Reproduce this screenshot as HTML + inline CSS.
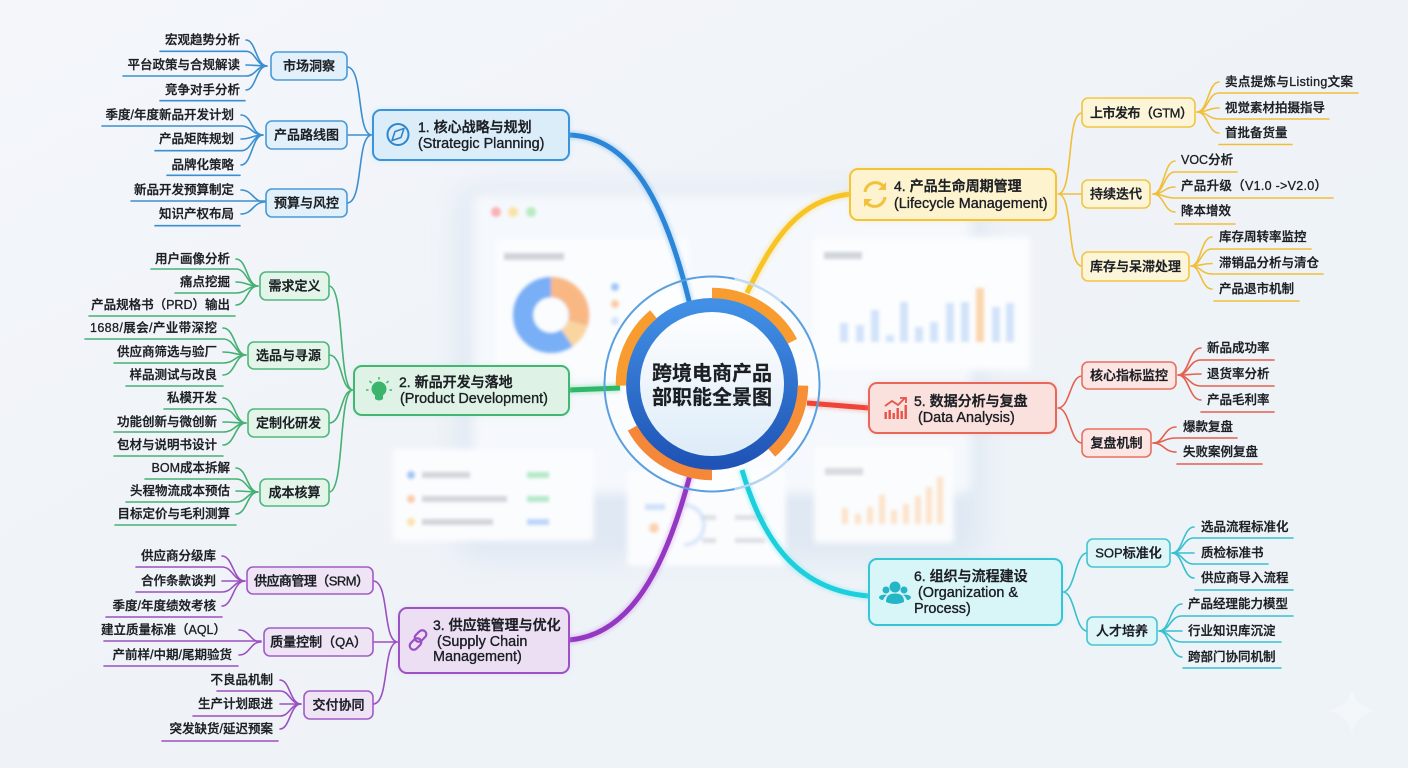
<!DOCTYPE html>
<html lang="zh"><head><meta charset="utf-8"><title>跨境电商产品部职能全景图</title>
<style>
html,body{margin:0;padding:0;width:1408px;height:768px;overflow:hidden;background:#f0f4f8}
svg{display:block}
text{font-family:"Liberation Sans","Noto Sans CJK SC",sans-serif;fill:#1b1e23;dominant-baseline:central;stroke:#1b1e23}
.l text{font-size:12.5px;font-weight:500;stroke-width:.3}
.e text{text-anchor:end}
.s text{font-size:13px;font-weight:500;text-anchor:middle;stroke-width:.35}
.m text{font-size:14.4px;font-weight:500;stroke-width:.35}
.m text.h{font-size:14px;stroke-width:.4}
.c path,.w{fill:none;stroke-width:1.6;stroke-linecap:round}
.u path{fill:none;stroke-width:1.6}
.b{stroke:#3a8fd0}.g{stroke:#45b172}.p{stroke:#9b50c2}.y{stroke:#f0be3a}.r{stroke:#e4604f}.t{stroke:#38c0cf}
</style></head><body>
<svg width="1408" height="768" viewBox="0 0 1408 768" xmlns="http://www.w3.org/2000/svg">
<defs>
<linearGradient id="bg" x1="0" y1="0" x2="1" y2="1"><stop offset="0" stop-color="#f4f6fa"/><stop offset=".5" stop-color="#eff3f8"/><stop offset="1" stop-color="#edf3f7"/></linearGradient>
<linearGradient id="ring" x1="0" y1="0" x2="0" y2="1"><stop offset="0" stop-color="#4190e6"/><stop offset="1" stop-color="#1f54b6"/></linearGradient>
<linearGradient id="face" x1="0" y1="0" x2="0" y2="1"><stop offset="0" stop-color="#ffffff"/><stop offset="1" stop-color="#dcebf8"/></linearGradient>
<filter id="f2" x="-30%" y="-30%" width="160%" height="160%"><feGaussianBlur stdDeviation="3"/></filter>
<filter id="f3" x="-30%" y="-30%" width="160%" height="160%"><feGaussianBlur stdDeviation="5"/></filter>
<filter id="f4" x="-30%" y="-30%" width="160%" height="160%"><feGaussianBlur stdDeviation="14"/></filter>
<filter id="f0" x="-30%" y="-30%" width="160%" height="160%"><feGaussianBlur stdDeviation="1.6"/></filter>
</defs>
<rect width="1408" height="768" fill="url(#bg)"/>

<!-- blurred dashboard -->
<g>
<rect x="458" y="190" width="525" height="370" rx="14" fill="#dfe8f3" filter="url(#f4)"/>
<rect x="472" y="194" width="500" height="300" rx="12" fill="#f5f8fc" filter="url(#f3)"/>
<g filter="url(#f0)"><circle cx="496" cy="212" r="5" fill="#fab0b6"/><circle cx="513" cy="212" r="5" fill="#f9e2a4"/><circle cx="531" cy="212" r="5" fill="#b7ebc0"/></g>
<rect x="495" y="238" width="195" height="140" rx="6" fill="#fafcfe" filter="url(#f2)"/>
<rect x="504" y="253" width="60" height="7" fill="#b3b8c0" opacity=".6" filter="url(#f0)"/>
<g filter="url(#f0)" fill="none" stroke-width="20">
<circle cx="551" cy="315" r="28" stroke="#79aff6"/>
<path d="M551 287A28 28 0 0 1 578 323" stroke="#f9b784"/>
<path d="M578 323A28 28 0 0 1 567 338" stroke="#fad5a0"/>
</g>
<g filter="url(#f0)"><circle cx="615" cy="287" r="4" fill="#a2c6f7"/><circle cx="615" cy="304" r="4" fill="#fbcaa0"/><circle cx="615" cy="321" r="4" fill="#d5e4f9"/></g>
<rect x="813" y="237" width="217" height="133" rx="4" fill="#fbfdfe" filter="url(#f2)"/>
<rect x="824" y="252" width="38" height="7" fill="#b3b8c0" opacity=".6" filter="url(#f0)"/>
<g fill="#d3e3fa" filter="url(#f0)">
<rect x="840" y="323" width="8" height="19"/><rect x="856" y="325" width="8" height="17"/><rect x="871" y="310" width="8" height="32"/><rect x="886" y="335" width="8" height="7"/><rect x="900" y="302" width="8" height="40"/><rect x="915" y="327" width="8" height="15"/><rect x="930" y="322" width="8" height="20"/><rect x="946" y="303" width="8" height="39"/><rect x="961" y="302" width="8" height="40"/><rect x="992" y="307" width="8" height="35"/><rect x="1006" y="303" width="8" height="39"/>
<rect x="976" y="288" width="8" height="54" fill="#fcd6ae"/>
</g>
<rect x="393" y="449" width="201" height="92" rx="4" fill="#fbfcfe" filter="url(#f2)"/>
<g filter="url(#f0)"><circle cx="411" cy="475" r="4" fill="#a2c6f7"/><circle cx="411" cy="499" r="4" fill="#fbcaa8"/><circle cx="411" cy="522" r="4" fill="#fbe2ad"/>
<g fill="#c0c4cb" opacity=".7"><rect x="422" y="472" width="48" height="6"/><rect x="422" y="496" width="85" height="6"/><rect x="422" y="519" width="71" height="6"/></g>
<rect x="527" y="472" width="22" height="6" fill="#b3e9c7"/><rect x="527" y="496" width="22" height="6" fill="#b3e9c7"/><rect x="527" y="519" width="22" height="6" fill="#bcd6f9"/>
</g>
<rect x="627" y="470" width="159" height="96" rx="4" fill="#fbfcfe" filter="url(#f2)"/>
<g filter="url(#f0)"><rect x="645" y="504" width="20" height="6" fill="#d0e1f9"/><circle cx="654" cy="528" r="5" fill="#fcd2ae"/><path d="M684 505A20 20 0 0 1 684 545" fill="none" stroke="#d9e7fa" stroke-width="4"/>
<g fill="#d0d4da" opacity=".7"><rect x="702" y="515" width="14" height="5"/><rect x="735" y="515" width="30" height="5"/><rect x="702" y="538" width="14" height="5"/><rect x="735" y="538" width="30" height="5"/></g></g>
<rect x="814" y="446" width="140" height="97" rx="4" fill="#fafcfd" filter="url(#f2)"/>
<rect x="825" y="468" width="38" height="7" fill="#c0c4cb" opacity=".6" filter="url(#f0)"/>
<g fill="#fce3ca" filter="url(#f0)"><rect x="842" y="508" width="6" height="16"/><rect x="855" y="514" width="6" height="10"/><rect x="867" y="507" width="6" height="17"/><rect x="879" y="495" width="6" height="29"/><rect x="891" y="510" width="6" height="14"/><rect x="903" y="504" width="6" height="20"/><rect x="915" y="496" width="6" height="28"/><rect x="926" y="487" width="6" height="37"/><rect x="937" y="477" width="6" height="47"/></g>
</g>
<path d="M1352 689C1354 700 1362 708 1375 711C1362 714 1354 722 1352 733C1350 722 1342 714 1329 711C1342 708 1350 700 1352 689Z" fill="#f4f7fa"/>

<!-- hub glass -->
<circle cx="712" cy="384" r="107" fill="#ffffff" opacity=".5"/>

<!-- trunks -->
<g fill="none" stroke-linecap="butt">
<g opacity=".35" filter="url(#f0)" stroke-width="9">
<path d="M569 135C630 137 665 200 690 305" stroke="#6fb4ef"/><path d="M569 390L620 388" stroke="#66d39a"/><path d="M569 640C630 635 665 570 690 475" stroke="#c58ae6"/>
<path d="M850 194C800 200 775 235 747 293" stroke="#f9d766"/><path d="M869 408L807 403" stroke="#f78a80"/><path d="M742 470C760 530 790 590 869 596" stroke="#6ee6ef"/>
</g>
<g stroke-width="5">
<path d="M569 135C630 137 665 200 690 305" stroke="#2b86d8"/><path d="M569 390L620 388" stroke="#2eb868"/><path d="M569 640C630 635 665 570 690 475" stroke="#9438c2"/>
<path d="M850 194C800 200 775 235 747 293" stroke="#f7c424"/><path d="M869 408L807 403" stroke="#ef4438"/><path d="M742 470C760 530 790 590 869 596" stroke="#1ccfdc"/>
</g></g>

<!-- central hub -->
<circle cx="712" cy="384" r="107.5" fill="none" stroke="#5a9fe0" stroke-width="2"/>
<path d="M734.4 278.9A107.5 107.5 0 0 1 781.1 301.7" fill="none" stroke="#c2dcf4" stroke-width="2.4"/>
<path d="M788 460A107.5 107.5 0 0 1 734.4 489.1" fill="none" stroke="#b4d4f1" stroke-width="2.4"/>
<circle cx="712" cy="384" r="79" fill="url(#face)" stroke="url(#ring)" stroke-width="14"/>
<g fill="none" stroke-width="10.5">
<path d="M712 293A91 91 0 0 1 792.4 341.3" stroke="#f89c30"/>
<path d="M621 385.6A91 91 0 0 1 653.5 314.3" stroke="#f89c30"/>
<path d="M803 385.6A91 91 0 0 1 771.7 452.7" stroke="#f68f36"/>
<path d="M712 475A91 91 0 0 1 632.4 428.1" stroke="#f58838"/>
</g>
<g style="font-weight:700;font-size:20px" text-anchor="middle"><text x="712" y="374" fill="#111" stroke-width=".2">跨境电商产品</text><text x="712" y="398" fill="#111" stroke-width=".2">部职能全景图</text></g>

<!-- connectors: branch 1 -->
<g class="c u b" fill="none">
<path d="M246 40C256 40 256 66 267 66M246 65C256 65 256 66 267 66M246 90C256 90 256 66 267 66"/>
<path d="M160 51.3H246C256 51.3 256 66 267 66M123 76H246C256 76 256 66 267 66M160 100.7H245"/>
<path d="M241 115C252 115 252 135 263 135M241 139C252 139 252 135 263 135M241 165C252 165 252 135 263 135"/>
<path d="M102 126H241C252 126 252 135 263 135M155 150.7H241C252 150.7 252 135 263 135M167 175.3H240"/>
<path d="M241 190C253 190 253 202 265 202M241 214C253 214 253 202 265 202"/>
<path d="M131 201H265M155 225.7H240"/>
<path d="M347 67C364 67 356 135 372 135M347 135H372M347 203C364 203 356 135 372 135"/>
</g>
<!-- branch 2 -->
<g class="c u g" fill="none">
<path d="M236 259C247 259 247 286 258 286M236 282C247 282 247 286 258 286M236 305C247 305 247 286 258 286"/>
<path d="M151 269H236C247 269 247 286 258 286M175 293H236C247 293 247 286 258 286M89 316H235"/>
<path d="M223 328C235 328 235 355 246 355M223 352C235 352 235 355 246 355M223 375C235 375 235 355 246 355"/>
<path d="M85 339H223C235 339 235 355 246 355M114 363H223C235 363 235 355 246 355M126 386H223"/>
<path d="M223 398C235 398 235 423 246 423M223 422C235 422 235 423 246 423M223 445C235 445 235 423 246 423"/>
<path d="M164 409H223C235 409 235 423 246 423M114 432H223C235 432 235 423 246 423M114 456H223"/>
<path d="M236 468C247 468 247 492 258 492M236 491C247 491 247 492 258 492M236 514C247 514 247 492 258 492"/>
<path d="M145 479H236C247 479 247 492 258 492M126 502H236C247 502 247 492 258 492M115 525H236"/>
<path d="M329 286C345 286 338 390 353 390M329 355C343 355 340 390 353 390M329 423C343 423 340 390 353 390M329 492C345 492 338 390 353 390"/>
</g>
<!-- branch 3 -->
<g class="c u p" fill="none">
<path d="M222 556C233 556 233 581 245 581M222 581H245M222 606C233 606 233 581 245 581"/>
<path d="M136 567H222C233 567 233 581 245 581M136 592H222C233 592 233 581 245 581M106 617H222"/>
<path d="M239 630C250 630 250 642 261 642M239 655C250 655 250 642 261 642"/>
<path d="M104 641H261M104 666H238"/>
<path d="M280 680C290 680 290 704 301 704M280 704H301M280 729C290 729 290 704 301 704"/>
<path d="M217 691H280C290 691 290 704 301 704M193 716H280C290 716 290 704 301 704M162 741H278"/>
<path d="M373 581C390 581 382 642 398 642M373 642H398M373 704C390 704 382 642 398 642"/>
</g>
<!-- branch 4 -->
<g class="c u y" fill="none">
<path d="M1219 82C1208 82 1208 112 1197 112M1219 108C1208 108 1208 112 1197 112M1219 133C1208 133 1208 112 1197 112"/>
<path d="M1358 93H1219C1208 93 1208 112 1197 112M1329 119H1219C1208 119 1208 112 1197 112M1292 144.5H1219"/>
<path d="M1175 161C1164 161 1164 194 1153 194M1175 187C1164 187 1164 194 1153 194M1175 212C1164 212 1164 194 1153 194"/>
<path d="M1237 172H1175C1164 172 1164 194 1153 194M1333 198H1175C1164 198 1164 194 1153 194M1235 224H1175"/>
<path d="M1212 237C1201 237 1201 266 1191 266M1212 263.5C1201 263.5 1201 266 1191 266M1212 289C1201 289 1201 266 1191 266"/>
<path d="M1311 249H1212C1201 249 1201 266 1191 266M1323 274H1212C1201 274 1201 266 1191 266M1299 301H1214"/>
<path d="M1058 194C1074 194 1066 113 1082 113M1058 194H1082M1058 194C1074 194 1066 266 1082 266"/>
</g>
<!-- branch 5 -->
<g class="c u r" fill="none">
<path d="M1201 348C1189 348 1189 375 1178 375M1201 374C1189 374 1189 375 1178 375M1201 400C1189 400 1189 375 1178 375"/>
<path d="M1274 360H1201C1189 360 1189 375 1178 375M1274 386H1201C1189 386 1189 375 1178 375M1274 412H1201"/>
<path d="M1176 427C1164 427 1164 443 1153 443M1176 452C1164 452 1164 443 1153 443"/>
<path d="M1237 438H1176C1164 438 1164 443 1153 443M1262 464H1177"/>
<path d="M1058 408C1070 408 1070 376 1082 376M1058 408C1070 408 1070 443 1082 443"/>
</g>
<!-- branch 6 -->
<g class="c u t" fill="none">
<path d="M1194 527C1183 527 1183 553 1172 553M1194 553H1172M1194 578C1183 578 1183 553 1172 553"/>
<path d="M1293 538H1194C1183 538 1183 553 1172 553M1268 564H1194C1183 564 1183 553 1172 553M1293 590H1195"/>
<path d="M1182 604C1170 604 1170 631 1159 631M1182 631H1159M1182 657C1170 657 1170 631 1159 631"/>
<path d="M1293 616H1182C1170 616 1170 631 1159 631M1281 642H1182C1170 642 1170 631 1159 631M1281 668H1183"/>
<path d="M1063 592C1075 592 1075 553 1087 553M1063 592C1075 592 1075 631 1087 631"/>
</g>

<!-- main node glows -->
<g filter="url(#f2)" opacity=".5">
<rect x="373" y="110" width="196" height="50" rx="8" fill="#9ccdf3"/><rect x="354" y="366" width="215" height="49" rx="8" fill="#a8e3bf"/><rect x="399" y="608" width="170" height="65" rx="8" fill="#d4aeea"/>
<rect x="850" y="169" width="206" height="51" rx="8" fill="#fbe18c"/><rect x="869" y="383" width="187" height="50" rx="8" fill="#f7b0a8"/><rect x="869" y="559" width="193" height="66" rx="8" fill="#98e6ee"/>
</g>
<!-- main nodes -->
<g stroke-width="2">
<rect x="373" y="110" width="196" height="50" rx="8" fill="#dcedfa" stroke="#3a94da"/>
<rect x="354" y="366" width="215" height="49" rx="8" fill="#def3e5" stroke="#43b673"/>
<rect x="399" y="608" width="170" height="65" rx="8" fill="#ecdff4" stroke="#9c52c4"/>
<rect x="850" y="169" width="206" height="51" rx="8" fill="#fdf3cf" stroke="#f3c338"/>
<rect x="869" y="383" width="187" height="50" rx="8" fill="#fbe1dd" stroke="#e8675a"/>
<rect x="869" y="559" width="193" height="66" rx="8" fill="#d8f5f8" stroke="#37c4d3"/>
</g>
<g class="m">
<text class="h" x="418" y="127">1. 核心战略与规划</text><text x="418" y="144">(Strategic Planning)</text>
<text class="h" x="399" y="382">2. 新品开发与落地</text><text x="400" y="399">(Product Development)</text>
<text class="h" x="433" y="625">3. 供应链管理与优化</text><text x="437" y="642">(Supply Chain</text><text x="433" y="657">Management)</text>
<text class="h" x="894" y="186">4. 产品生命周期管理</text><text x="894" y="204">(Lifecycle Management)</text>
<text class="h" x="914" y="401">5. 数据分析与复盘</text><text x="918" y="418">(Data Analysis)</text>
<text class="h" x="914" y="576">6. 组织与流程建设</text><text x="918" y="593">(Organization &amp;</text><text x="914" y="609">Process)</text>
</g>

<!-- sub nodes -->
<g stroke-width="1.6">
<g fill="#e2f0fb" stroke="#4a9ad8"><rect x="271" y="52" width="76" height="28" rx="6"/><rect x="266" y="121" width="81" height="28" rx="6"/><rect x="266" y="189" width="81" height="28" rx="6"/></g>
<g fill="#e2f5e8" stroke="#4fb87a"><rect x="260" y="272" width="69" height="28" rx="6"/><rect x="248" y="342" width="81" height="27" rx="6"/><rect x="248" y="409" width="81" height="28" rx="6"/><rect x="260" y="479" width="69" height="27" rx="6"/></g>
<g fill="#efe4f6" stroke="#a05cc6"><rect x="247" y="567" width="126" height="27" rx="6"/><rect x="264" y="628" width="109" height="28" rx="6"/><rect x="304" y="691" width="69" height="28" rx="6"/></g>
<g fill="#fdf5d8" stroke="#f2c544"><rect x="1082" y="98" width="113" height="29" rx="6"/><rect x="1082" y="180" width="68" height="28" rx="6"/><rect x="1082" y="252" width="107" height="29" rx="6"/></g>
<g fill="#fce6e3" stroke="#e8705f"><rect x="1082" y="362" width="94" height="27" rx="6"/><rect x="1082" y="429" width="69" height="28" rx="6"/></g>
<g fill="#def6f8" stroke="#42c5d3"><rect x="1087" y="539" width="83" height="28" rx="6"/><rect x="1087" y="617" width="70" height="28" rx="6"/></g>
</g>
<g class="s">
<text x="309" y="66">市场洞察</text><text x="306.5" y="135">产品路线图</text><text x="306.5" y="203">预算与风控</text>
<text x="294.5" y="286">需求定义</text><text x="288.5" y="355.5">选品与寻源</text><text x="288.5" y="423">定制化研发</text><text x="294.5" y="492.5">成本核算</text>
<text x="311.5" y="581" textLength="115">供应商管理（SRM）</text><text x="318.5" y="642">质量控制（QA）</text><text x="338.5" y="705">交付协同</text>
<text x="1141.5" y="113" textLength="103">上市发布（GTM）</text><text x="1116" y="194">持续迭代</text><text x="1135.5" y="266.5">库存与呆滞处理</text>
<text x="1129" y="375.5">核心指标监控</text><text x="1116.5" y="443">复盘机制</text>
<text x="1128.5" y="553">SOP标准化</text><text x="1122" y="631">人才培养</text>
</g>

<!-- leaves left -->
<g class="l e">
<text x="240" y="40">宏观趋势分析</text><text x="240" y="65">平台政策与合规解读</text><text x="240" y="90">竞争对手分析</text>
<text x="234" y="115">季度/年度新品开发计划</text><text x="234" y="139">产品矩阵规划</text><text x="234" y="165">品牌化策略</text>
<text x="234" y="190">新品开发预算制定</text><text x="234" y="214">知识产权布局</text>
<text x="230" y="259">用户画像分析</text><text x="230" y="282">痛点挖掘</text><text x="230" y="305">产品规格书（PRD）输出</text>
<text x="217" y="328" textLength="127">1688/展会/产业带深挖</text><text x="217" y="352">供应商筛选与验厂</text><text x="217" y="375">样品测试与改良</text>
<text x="217" y="398">私模开发</text><text x="217" y="422">功能创新与微创新</text><text x="217" y="445">包材与说明书设计</text>
<text x="230" y="468">BOM成本拆解</text><text x="230" y="491">头程物流成本预估</text><text x="230" y="514">目标定价与毛利测算</text>
<text x="216" y="556">供应商分级库</text><text x="216" y="581">合作条款谈判</text><text x="216" y="606">季度/年度绩效考核</text>
<text x="226" y="630">建立质量标准（AQL）</text><text x="232" y="655">产前样/中期/尾期验货</text>
<text x="273" y="680">不良品机制</text><text x="273" y="704">生产计划跟进</text><text x="273" y="729">突发缺货/延迟预案</text>
</g>
<!-- leaves right -->
<g class="l">
<text x="1225" y="82" textLength="128">卖点提炼与Listing文案</text><text x="1225" y="108">视觉素材拍摄指导</text><text x="1225" y="133">首批备货量</text>
<text x="1181" y="160">VOC分析</text><text x="1181" y="186" textLength="146">产品升级（V1.0 -&gt;V2.0）</text><text x="1181" y="211">降本增效</text>
<text x="1219" y="237">库存周转率监控</text><text x="1219" y="263">滞销品分析与清仓</text><text x="1219" y="289">产品退市机制</text>
<text x="1207" y="348">新品成功率</text><text x="1207" y="374">退货率分析</text><text x="1207" y="400">产品毛利率</text>
<text x="1183" y="427">爆款复盘</text><text x="1183" y="452">失败案例复盘</text>
<text x="1201" y="527">选品流程标准化</text><text x="1201" y="553">质检标准书</text><text x="1201" y="578">供应商导入流程</text>
<text x="1188" y="604">产品经理能力模型</text><text x="1188" y="631">行业知识库沉淀</text><text x="1188" y="657">跨部门协同机制</text>
</g>

<!-- icons -->
<g fill="none" stroke="#2f86cc" stroke-width="2"><circle cx="398" cy="134.5" r="10.5"/><path d="M404 128.5L401 137.5L392 140.5L395 131.5Z" stroke-width="1.6" stroke-linejoin="round"/></g>
<g><circle cx="379" cy="389" r="7.5" fill="#3cb56c"/><path d="M375 394H383V399Q379 402 375 399Z" fill="#3cb56c"/><path d="M379 377V379.5M369.5 381L371.5 383M388.5 381L386.5 383M366 390H368.5M389.5 390H392" stroke="#45b172" stroke-width="1.5" fill="none"/></g>
<g fill="none" stroke="#9a4fc2" stroke-width="2.2"><rect x="409" y="640" width="13" height="8" rx="4" transform="rotate(-45 415.5 644)"/><rect x="414" y="632" width="13" height="8" rx="4" transform="rotate(-45 420.5 636)"/></g>
<g fill="none" stroke="#f3c13c" stroke-width="3"><path d="M865 192A10.5 10.5 0 0 1 884 187"/><path d="M885 197A10.5 10.5 0 0 1 866 202"/><path d="M886 182V190H878Z" fill="#f3c13c" stroke="none"/><path d="M864 207V199H872Z" fill="#f3c13c" stroke="none"/></g>
<g fill="#e4544a"><rect x="884.5" y="412" width="2.4" height="7"/><rect x="888.5" y="410" width="2.4" height="9"/><rect x="892.5" y="413" width="2.4" height="6"/><rect x="896.5" y="408" width="2.4" height="11"/><rect x="900.5" y="411" width="2.4" height="8"/><rect x="904.5" y="405" width="2.4" height="14"/></g>
<path d="M885 406L892 401L898 405L905 398M900 398H906V403" fill="none" stroke="#e4544a" stroke-width="1.8"/>
<g fill="#24b6c6"><circle cx="895" cy="587" r="5.5"/><circle cx="886" cy="590" r="3.5"/><circle cx="904" cy="590" r="3.5"/><path d="M886 602C886 595 890 593.5 895 593.5C900 593.5 904 595 904 602Q895 606 886 602Z"/><path d="M883 600C881 600 879 599 879 597C880 595 884 594 887 595C885 596 884 598 883 600ZM907 600C909 600 911 599 911 597C910 595 906 594 903 595C905 596 906 598 907 600Z"/></g>
</svg>
</body></html>
